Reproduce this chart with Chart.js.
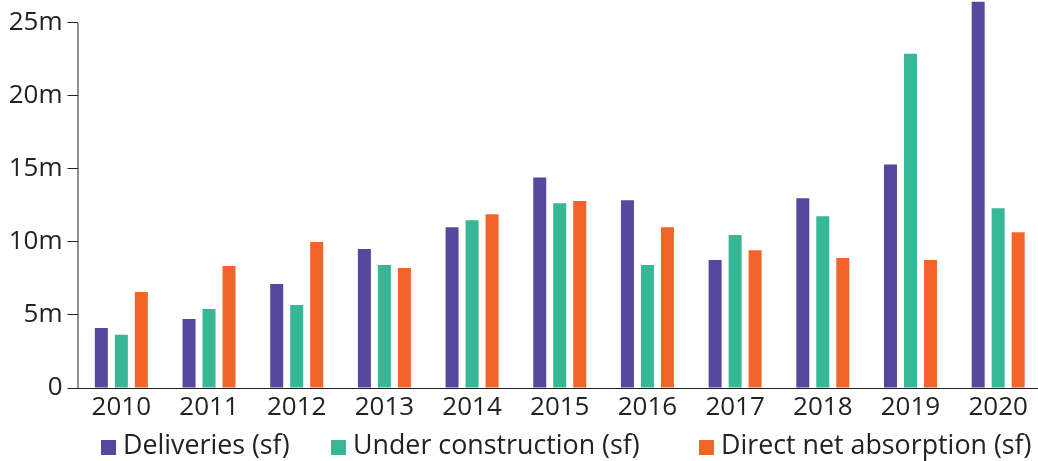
<!DOCTYPE html>
<html>
<head>
<meta charset="utf-8">
<script src="https://cdn.jsdelivr.net/npm/chart.js@4"></script>
<style>
  html, body { margin: 0; padding: 0; background: #fff; overflow: hidden; }
  #wrap { position: relative; width: 1043px; height: 461px; }
  #legend { position: absolute; left: 0; top: 427px; width: 1038px; height: 34px; font-family: "Open Sans", sans-serif; font-size: 26.8px; color: #222; }
  .item { position: absolute; top: 0; white-space: nowrap; line-height: 34px; }
  .box { display: inline-block; width: 15px; height: 15px; margin-right: 7px; vertical-align: -1px; }
</style>
</head>
<body>
<div id="wrap">
  <canvas id="marketChart"></canvas>
  <div id="legend"></div>
</div>
<script>
// valeurs en millions de pieds carrés
const years = ['2010', '2011', '2012', '2013', '2014', '2015', '2016', '2017', '2018', '2019', '2020'];
const deliveries = [4.1, 4.73, 7.12, 9.51, 11.0, 14.42, 12.85, 8.76, 12.99, 15.31, 26.45];
const underConstruction = [3.64, 5.41, 5.69, 8.42, 11.49, 12.65, 8.42, 10.47, 11.76, 22.89, 12.31];
const netAbsorption = [6.57, 8.35, 9.99, 8.21, 11.9, 12.8, 11.01, 9.44, 8.9, 8.76, 10.67];
const seriesNames = ['Deliveries (sf)', 'Under construction (sf)', 'Direct net absorption (sf)'];
const colors = ['#55489d', '#37b795', '#f26429'];
const yTicks = [0, 5, 10, 15, 20, 25];

const legendLeft = [101, 331, 699];
const axisColor = '#222';
const font = { family: '"Open Sans", sans-serif', size: 26 };

// ligne de l'axe Y qui s'arrête au dernier tick
const yAxisLine = {
    id: 'yAxisLine',
    afterDraw(chart) {
        const y = chart.scales.y;
        const ctx = chart.ctx;
        ctx.save();
        ctx.strokeStyle = axisColor;
        ctx.lineWidth = 1;
        ctx.beginPath();
        ctx.moveTo(chart.chartArea.left + 0.5, y.getPixelForValue(0));
        ctx.lineTo(chart.chartArea.left + 0.5, y.getPixelForValue(yTicks[yTicks.length - 1]));
        ctx.stroke();
        ctx.restore();
    }
};

const ctx = document.getElementById('marketChart').getContext('2d');
const chart = new Chart(ctx, {
    type: 'bar',
    data: {
        labels: years,
        datasets: [deliveries, underConstruction, netAbsorption].map((values, i) => ({
            label: seriesNames[i],
            data: values,
            backgroundColor: colors[i],
            borderWidth: 0,
            categoryPercentage: 0.684,
            barPercentage: 0.65
        }))
    },
    options: {
        responsive: true,
        maintainAspectRatio: false,
        animation: false,
        layout: { padding: { top: 1, right: 1, left: 0, bottom: 0 } },
        plugins: {
            legend: { display: false },
            tooltip: { enabled: false }
        },
        scales: {
            x: {
                grid: { display: false, drawTicks: false },
                border: { display: true, color: axisColor, width: 1 },
                ticks: { font: font, color: axisColor, padding: 4, maxRotation: 0 },
                afterFit(scale) {
                    scale.height = 73;
                    scale.paddingLeft = 0;
                    scale.paddingRight = 0;
                }
            },
            y: {
                min: 0,
                max: 26.5,
                grid: { drawOnChartArea: false, drawTicks: true, tickLength: 10, color: axisColor },
                border: { display: false },
                ticks: {
                    font: font,
                    color: axisColor,
                    padding: 5,
                    stepSize: 5,
                    includeBounds: false,
                    callback: v => (v === 0 ? '0' : v + 'm')
                },
                afterFit(scale) {
                    scale.width = 77.5;
                    scale.paddingTop = 0;
                    scale.paddingBottom = 0;
                }
            }
        }
    },
    plugins: [yAxisLine]
});

// légende en HTML
const legend = document.getElementById('legend');
chart.data.datasets.forEach((ds, i) => {
    const item = document.createElement('div');
    item.className = 'item';
    item.style.left = legendLeft[i] + 'px';
    item.innerHTML = '<span class="box" style="background:' + ds.backgroundColor + '"></span>' + ds.label;
    legend.appendChild(item);
});
</script>
</body>
</html>
